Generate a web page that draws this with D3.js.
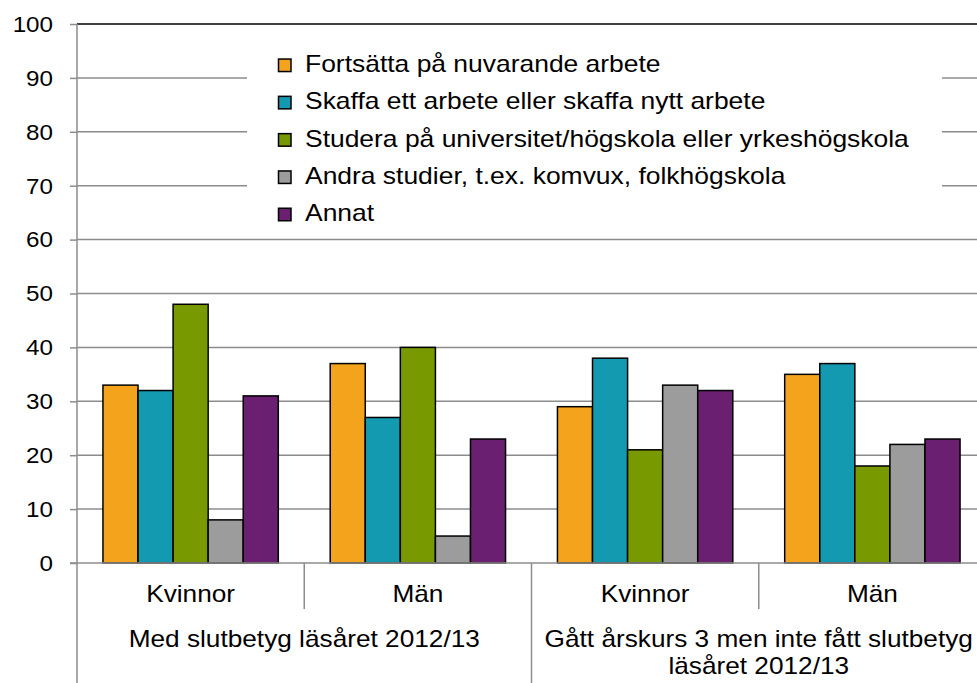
<!DOCTYPE html>
<html><head><meta charset="utf-8">
<script src="https://cdn.jsdelivr.net/npm/d3@7"></script>
<style>body{margin:0;background:#fff;overflow:hidden}text{font-family:"Liberation Sans",Arial,sans-serif;fill:#000}</style>
</head><body><svg id="c" width="977" height="683"></svg>
<script>
const groups = ["Med slutbetyg läsåret 2012/13", "Gått årskurs 3 men inte fått slutbetyg|läsåret 2012/13"];
const categories = ["Kvinnor", "Män", "Kvinnor", "Män"];
const seriesNames = ["Fortsätta på nuvarande arbete","Skaffa ett arbete eller skaffa nytt arbete","Studera på universitet/högskola eller yrkeshögskola","Andra studier, t.ex. komvux, folkhögskola","Annat"];
const colors = ["#F4A41C","#1399B0","#789A00","#9C9C9C","#6A1F70"];
const fortsatta = [33, 37, 29, 35];
const skaffa = [32, 27, 38, 37];
const studera = [48, 40, 21, 18];
const andra = [8, 5, 33, 22];
const annat = [31, 23, 32, 23];
const yTicks = [0,10,20,30,40,50,60,70,80,90,100];
const series = [fortsatta, skaffa, studera, andra, annat];

const svg = d3.select("#c");
const L = 77, R = 986, T = 24, B = 563;
const GRID = "#8c8c8c";
const x0 = d3.scaleBand().domain(d3.range(4)).range([L, R]);
const x1 = d3.scaleBand().domain(d3.range(5)).range([0, x0.bandwidth()]).paddingOuter(0.74).paddingInner(0);
const y = d3.scaleLinear().domain([0,100]).range([B, T]);

function stext(sel, x, yy, txt, size, sx, anchor) {
  return sel.append("text")
    .attr("transform", `translate(${x},${yy}) scale(${sx},1)`)
    .attr("text-anchor", anchor || "start")
    .attr("font-size", size).text(txt);
}

// gridlines
svg.append("g").selectAll("line").data(yTicks.filter(d=>d>0 && d<100)).join("line")
  .attr("x1", L).attr("x2", R).attr("y1", d=>y(d)).attr("y2", d=>y(d))
  .attr("stroke", GRID).attr("stroke-width", 1.5);
svg.append("line").attr("x1", L).attr("x2", R).attr("y1", y(100)).attr("y2", y(100)).attr("stroke","#000").attr("stroke-width",1.5);

// y axis ticks (via d3 axis, labels drawn stretched)
const yAxis = d3.axisLeft(y).tickValues(yTicks).tickSize(7).tickFormat("");
const ga = svg.append("g").attr("transform", `translate(${L},0)`).call(yAxis);
ga.select(".domain").remove();
ga.selectAll(".tick line").attr("stroke",GRID).attr("stroke-width",1.5);
yTicks.forEach(t => stext(svg, 53, y(t) + 7.8, String(t), 22, 1.1, "end"));

// bars
const gb = svg.append("g");
categories.forEach((c, ci) => {
  series.forEach((s, si) => {
    gb.append("rect")
      .attr("x", x0(ci) + x1(si)).attr("width", x1.bandwidth())
      .attr("y", y(s[ci])).attr("height", y(0) - y(s[ci]))
      .attr("fill", colors[si]).attr("stroke", "#000").attr("stroke-width", 1.5);
  });
});

// axes lines
svg.append("line").attr("x1", L).attr("x2", L).attr("y1", T).attr("y2", 683).attr("stroke",GRID).attr("stroke-width",1.5);
svg.append("line").attr("x1", L-7).attr("x2", R).attr("y1", B).attr("y2", B).attr("stroke",GRID).attr("stroke-width",1.5);
[1,3].forEach(i => svg.append("line").attr("x1", x0(i)).attr("x2", x0(i)).attr("y1", B).attr("y2", 609).attr("stroke",GRID).attr("stroke-width",1.5));
svg.append("line").attr("x1", x0(2)).attr("x2", x0(2)).attr("y1", B).attr("y2", 683).attr("stroke",GRID).attr("stroke-width",1.5);

// category labels
categories.forEach((c, ci) => stext(svg, x0(ci) + x0.bandwidth()/2, 602, c, 23, 1.14, "middle"));
groups.forEach((g, gi) => {
  const cx = (x0(gi*2) + x0(gi*2+1) + x0.bandwidth())/2;
  g.split("|").forEach((line, li) => stext(svg, cx, 647 + li*27, line, 23, 1.14, "middle"));
});

// legend
const lg = svg.append("g");
lg.append("rect").attr("x", 247).attr("y", 44).attr("width", 695).attr("height", 192).attr("fill","#fff");
seriesNames.forEach((n, i) => {
  const yy = 65.3 + i*37.3;
  lg.append("rect").attr("x", 278.5).attr("y", yy-6.25).attr("width", 12.5).attr("height", 12.5).attr("fill", colors[i]).attr("stroke","#000").attr("stroke-width",1.5);
  stext(lg, 305, yy + 6.6, n, 23, 1.15);
});
</script></body></html>
